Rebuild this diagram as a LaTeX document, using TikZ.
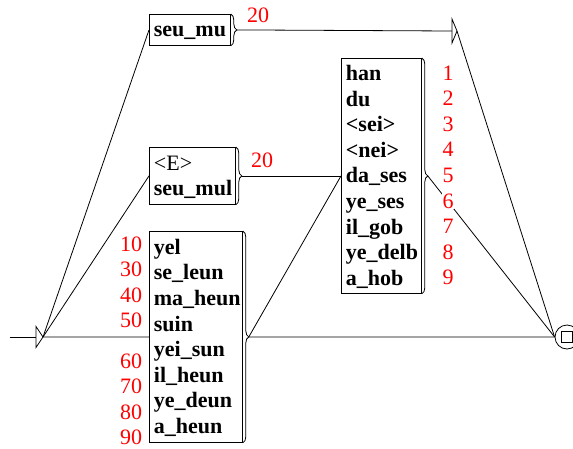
\documentclass[tikz,border=0pt]{standalone}
\usepackage{fontspec}
\setmainfont{Liberation Serif}
\usetikzlibrary{decorations.pathreplacing}
\newcommand{\rowst}{\vrule height 19.7pt depth 5.9pt width 0pt}
\tikzstyle{boxStyle}=[shape = rectangle, draw, anchor = north west, inner xsep = 4.5pt, inner ysep = 0pt, align = left, font = \fontsize{22}{25.6}\selectfont\bfseries]
\tikzstyle{outLabel}=[text = red, inner sep = 0.5pt, fill = white, anchor = base, font = \fontsize{22}{25.6}\selectfont]
\begin{document}
\begin{tikzpicture}[x = 1pt, y = -1pt, line width = 0.8pt]
\tikzstyle{outBrace}=[decorate, decoration = {brace, amplitude = 6pt}]
\tikzstyle{finalStyle}=[shape = circle, draw, minimum size = 24pt, inner sep = 0pt]
\useasboundingbox (0,0) rectangle (573,448);
\clip (0,0) rectangle (573,448);
\coordinate (entry) at (10,337);
\coordinate (initb) at (36,337);
\coordinate (init) at (43,337);
\coordinate (eps) at (452,31);
\coordinate (epsout) at (457,31);
\node[boxStyle, minimum width = 81pt, minimum height = 31pt, text width = 72pt] (mu) at (149,14) {\rowst seu\_mu};
\node[boxStyle, minimum width = 86pt, minimum height = 57pt, text width = 77pt] (mul) at (149,147) {\rowst{\mdseries<E>}\\\rowst seu\_mul};
\node[boxStyle, minimum width = 80pt, minimum height = 235pt, text width = 71pt] (mid) at (341,58) {\rowst han\\\rowst du\\\rowst <sei>\\\rowst <nei>\\\rowst da\_ses\\\rowst ye\_ses\\\rowst il\_gob\\\rowst ye\_delb\\\rowst a\_hob};
\node[boxStyle, minimum width = 93pt, minimum height = 211pt, text width = 84pt] (low) at (149,231) {\rowst yel\\\rowst se\_leun\\\rowst ma\_heun\\\rowst suin\\\rowst yei\_sun\\\rowst il\_heun\\\rowst ye\_deun\\\rowst a\_heun};
\node[finalStyle] (fin) at (567,337) {};
\draw ([shift = {(-5.5pt,-5.5pt)}]fin.center) rectangle ([shift = {(5.5pt,5.5pt)}]fin.center);
\draw ([yshift = -10.5pt]initb) -- (init) -- ([yshift = 10.5pt]initb) -- cycle;
\draw ([yshift = -12pt]eps) -- (epsout) -- ([yshift = 12pt]eps) -- cycle;
\draw[outBrace] (mu.north east) -- (mu.south east);
\draw[outBrace] (mul.north east) -- (mul.south east);
\draw[outBrace] (mid.north east) -- (mid.south east);
\draw[outBrace] (low.north east) -- (low.south east);
\draw (entry) -- (initb);
\draw (init) -- (mu.west);
\draw (init) -- (mul.west);
\draw (init) -- (low.west);
\draw ([xshift = 6pt]mu.east) -- (eps);
\draw (epsout) -- (fin.west);
\draw ([xshift = 6pt]mul.east) -- (mid.west);
\draw ([xshift = 6pt]low.east) -- (mid.west);
\draw ([xshift = 6pt]low.east) -- (fin.west);
\draw ([xshift = 6pt]mid.east) -- (fin.west);
\node[outLabel] (mu20) at (258,22) {20};
\node[outLabel] (mul20) at (262,167) {20};
\foreach \n [count = \i from 0] in {1,...,9}
  \node[outLabel] (m\n) at (448,80+25.6*\i) {\n};
\foreach \v/\y in {10/251,30/276.5,40/302,50/327.5,60/368,70/393.5,80/419,90/444.5}
  \node[outLabel, anchor = base east] (w\v) at (143,\y) {\v};
\end{tikzpicture}
\end{document}
